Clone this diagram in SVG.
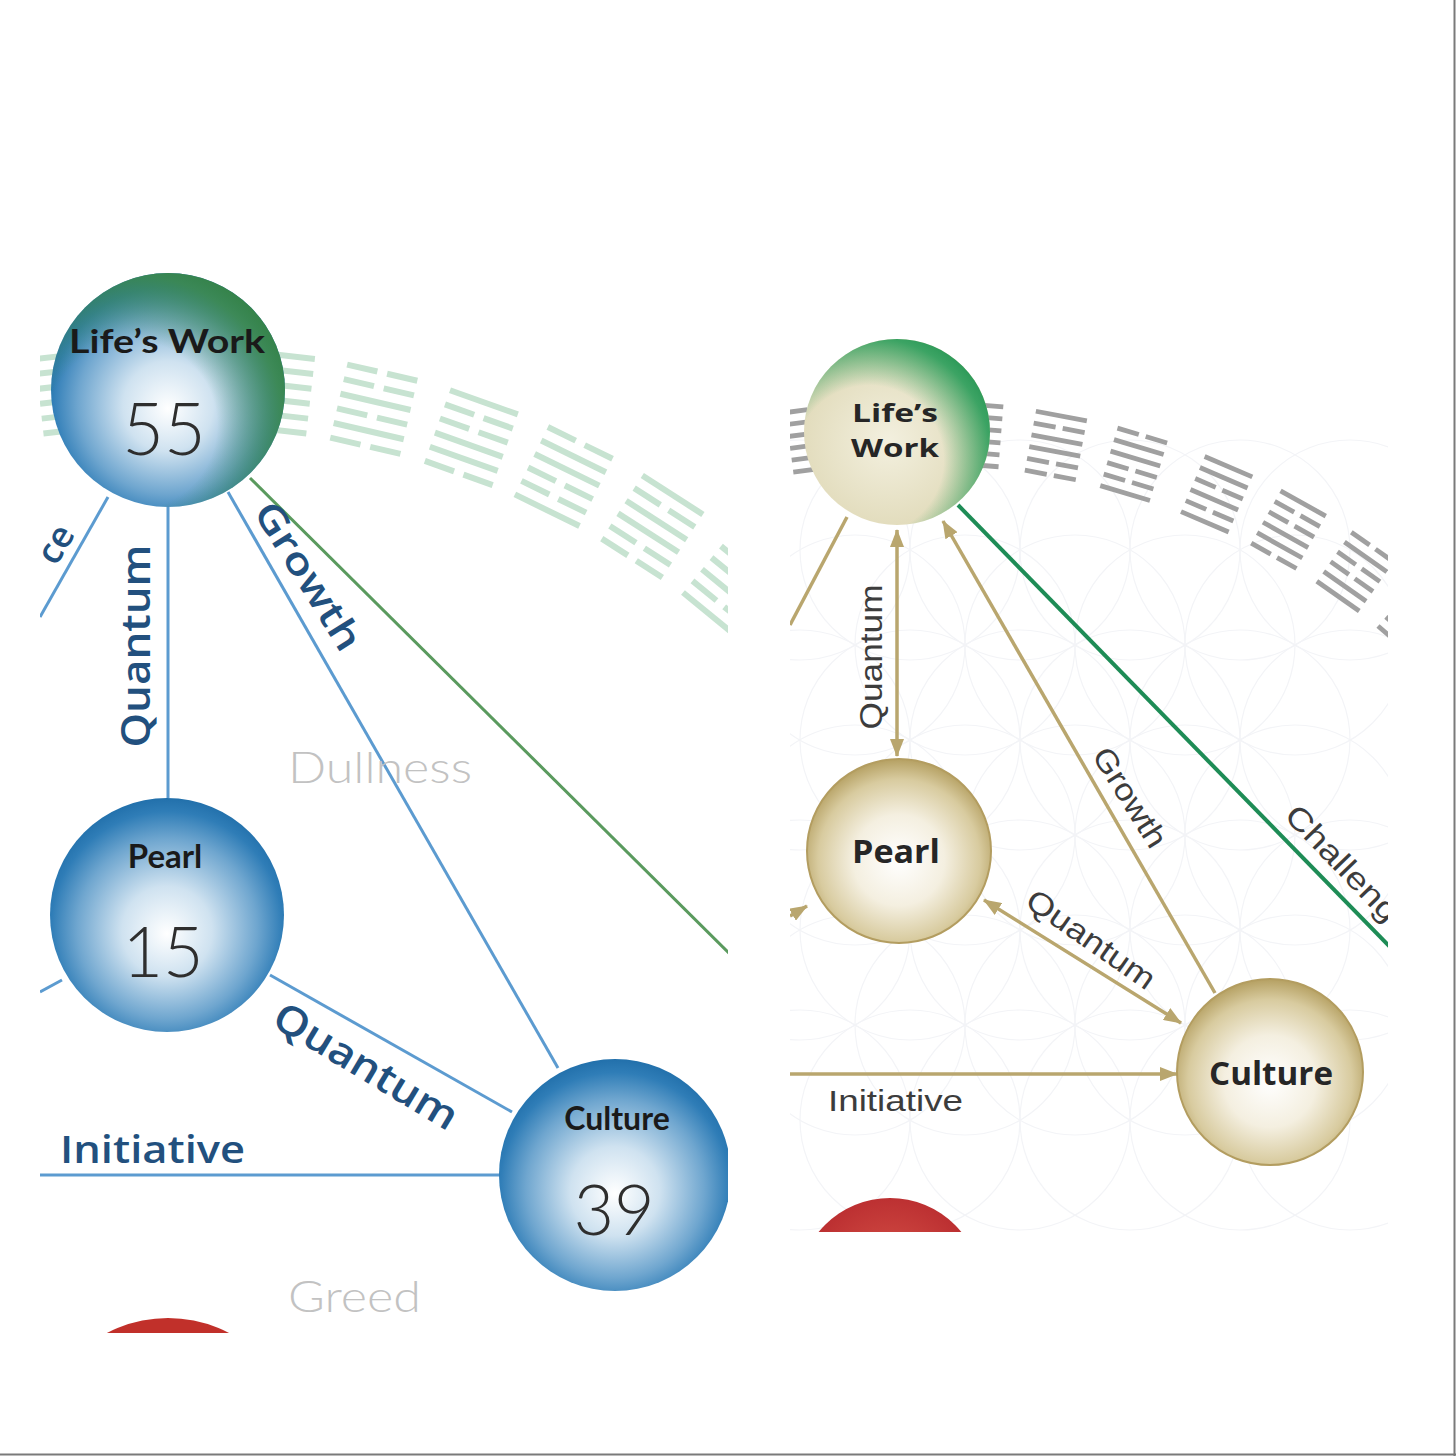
<svg xmlns="http://www.w3.org/2000/svg" xmlns:xlink="http://www.w3.org/1999/xlink" width="1456" height="1456" viewBox="0 0 1456 1456">
<style>
.lbl{font-family:"Open Sans","Lato","Liberation Sans",sans-serif;font-weight:600;fill:#22507e}
.node{font-family:"Lato","Open Sans","Liberation Sans",sans-serif;font-weight:700;fill:#1a1a1a;text-anchor:middle}
.num{font-family:"Lato","Open Sans","Liberation Sans",sans-serif;font-weight:300;fill:#2e2e2e;text-anchor:middle}
.shadow{font-family:"Lato","Open Sans","Liberation Sans",sans-serif;font-weight:300;fill:#c2c2c2}
.bl{stroke:#5c9bd0;stroke-width:3;fill:none}
.tn{stroke:#b9a66e;stroke-width:3.5;fill:none}
.rl{font-family:"Liberation Sans","Open Sans",sans-serif;fill:#3c3c3c}
.rn{font-family:"Open Sans","Liberation Sans",sans-serif;font-weight:700;fill:#262626;text-anchor:middle}
.fol{fill:none;stroke:#f3f4f7;stroke-width:1.2}
</style>
<defs>
<clipPath id="clipL"><rect x="40" y="265" width="688" height="1068"/></clipPath>
<clipPath id="clipR"><rect x="790" y="335" width="598" height="897"/></clipPath>
<radialGradient id="gBlue" cx="0.5" cy="0.55" r="0.55" fx="0.5" fy="0.58">
<stop offset="0" stop-color="#ffffff"/>
<stop offset="0.35" stop-color="#cfe2f0"/>
<stop offset="0.7" stop-color="#6fa6cf"/>
<stop offset="0.9" stop-color="#2f7db7"/>
<stop offset="1" stop-color="#2270ab"/>
</radialGradient>
<radialGradient id="gGreenL" cx="0.35" cy="0.65" r="0.8">
<stop offset="0" stop-color="#3d8a46" stop-opacity="0"/>
<stop offset="0.45" stop-color="#3d8a46" stop-opacity="0"/>
<stop offset="0.8" stop-color="#3d8a46" stop-opacity="0.85"/>
<stop offset="1" stop-color="#2f7d3a" stop-opacity="1"/>
</radialGradient>
<radialGradient id="gCream" cx="0.45" cy="0.55" r="0.6">
<stop offset="0" stop-color="#f3f0df"/>
<stop offset="1" stop-color="#ddd6b2"/>
</radialGradient>
<radialGradient id="gGreenR" cx="0.35" cy="0.65" r="0.8">
<stop offset="0" stop-color="#1f9a55" stop-opacity="0"/>
<stop offset="0.5" stop-color="#1f9a55" stop-opacity="0"/>
<stop offset="0.82" stop-color="#1f9a55" stop-opacity="0.85"/>
<stop offset="1" stop-color="#178a48" stop-opacity="1"/>
</radialGradient>
<radialGradient id="gTan" cx="0.5" cy="0.55" r="0.55">
<stop offset="0" stop-color="#ffffff"/>
<stop offset="0.45" stop-color="#f4efe0"/>
<stop offset="0.8" stop-color="#d8cb9f"/>
<stop offset="1" stop-color="#b5a062"/>
</radialGradient>
<radialGradient id="gRed" cx="0.5" cy="0.45" r="0.6">
<stop offset="0" stop-color="#d9564a"/>
<stop offset="1" stop-color="#b3242a"/>
</radialGradient>
<marker id="arr" viewBox="0 0 18 14" markerWidth="18" markerHeight="14" refX="17" refY="7" orient="auto-start-reverse" markerUnits="userSpaceOnUse">
<path d="M0,0 L18,7 L0,14 z" fill="#b9a66e"/>
</marker>
<rect id="s" x="-36" y="0" width="72" height="6"/>
<g id="b"><rect x="-36" y="0" width="31" height="6"/><rect x="5" y="0" width="31" height="6"/></g>
<g id="hA"><use href="#s" y="-40"/><use href="#b" y="-25"/><use href="#s" y="-10"/><use href="#s" y="5"/><use href="#b" y="20"/><use href="#b" y="35"/></g>
<g id="hB"><use href="#b" y="-40"/><use href="#s" y="-25"/><use href="#b" y="-10"/><use href="#b" y="5"/><use href="#s" y="20"/><use href="#s" y="35"/></g>
<g id="hC"><use href="#s" y="-40"/><use href="#s" y="-25"/><use href="#b" y="-10"/><use href="#s" y="5"/><use href="#b" y="20"/><use href="#s" y="35"/></g>
<g id="hD"><use href="#b" y="-40"/><use href="#b" y="-25"/><use href="#s" y="-10"/><use href="#b" y="5"/><use href="#s" y="20"/><use href="#b" y="35"/></g>
<g id="hE"><use href="#s" y="-40"/><use href="#b" y="-25"/><use href="#b" y="-10"/><use href="#s" y="5"/><use href="#s" y="20"/><use href="#b" y="35"/></g>
<g id="hF"><use href="#b" y="-40"/><use href="#s" y="-25"/><use href="#s" y="-10"/><use href="#b" y="5"/><use href="#b" y="20"/><use href="#s" y="35"/></g>
</defs>
<rect x="0" y="0" width="1456" height="1456" fill="#ffffff"/>
<line x1="1454.5" y1="0" x2="1454.5" y2="1456" stroke="#7a7a7a" stroke-width="2"/>
<line x1="0" y1="1454.5" x2="1456" y2="1454.5" stroke="#7a7a7a" stroke-width="2"/>

<!-- LEFT PANEL -->
<g id="left-panel" clip-path="url(#clipL)">
<g id="hexagrams-left" fill="#c7e3d1">
<use href="#hA" transform="translate(74.9,391.7) rotate(-6.5)"/>
<use href="#hB" transform="translate(175,386)"/>
<use href="#hC" transform="translate(274.9,391.7) rotate(6.5)"/>
<use href="#hD" transform="translate(373.9,408.7) rotate(13)"/>
<use href="#hE" transform="translate(471.5,437.2) rotate(19.6)"/>
<use href="#hF" transform="translate(563.9,476.1) rotate(26.1)"/>
<use href="#hA" transform="translate(652.6,526.1) rotate(32.7)"/>
<use href="#hC" transform="translate(734.9,585.9) rotate(39.3)"/>
</g>
<g id="connectors-left">
<line class="bl" x1="108" y1="497" x2="40" y2="617"/>
<line class="bl" x1="168" y1="507" x2="168" y2="798"/>
<line class="bl" x1="228" y1="492" x2="558" y2="1068"/>
<line x1="250" y1="478" x2="730" y2="954" stroke="#5a9a5e" stroke-width="3"/>
<line class="bl" x1="270" y1="975" x2="512" y2="1112"/>
<line class="bl" x1="62" y1="980" x2="40" y2="992"/>
<line class="bl" x1="40" y1="1175" x2="502" y2="1175" stroke-width="4"/>
<text class="lbl" font-size="36" text-anchor="end" transform="translate(76,534) rotate(-59)">ce</text>
<text class="lbl" font-size="40" text-anchor="middle" textLength="203" lengthAdjust="spacingAndGlyphs" transform="translate(150,646) rotate(-90)">Quantum</text>
<text class="lbl" font-size="38" text-anchor="middle" textLength="168" lengthAdjust="spacingAndGlyphs" transform="translate(297,583) rotate(58)">Growth</text>
<text class="lbl" font-size="40" text-anchor="middle" textLength="208" lengthAdjust="spacingAndGlyphs" transform="translate(359,1078) rotate(31)">Quantum</text>
<text class="lbl" font-size="38" x="60" y="1163" textLength="185" lengthAdjust="spacingAndGlyphs" fill="#2a5d8c">Initiative</text>
<text class="shadow" font-size="43" x="288" y="783" textLength="184" lengthAdjust="spacingAndGlyphs">Dullness</text>
<text class="shadow" font-size="43" x="288" y="1312" textLength="133" lengthAdjust="spacingAndGlyphs">Greed</text>
</g>
<g id="node-lifes-work-left">
<circle cx="168" cy="390" r="117" fill="url(#gBlue)"/>
<circle cx="168" cy="390" r="117" fill="url(#gGreenL)"/>
<text class="node" x="167" y="353" font-size="32" textLength="196" lengthAdjust="spacingAndGlyphs">Life’s Work</text>
<text class="num" x="164" y="455" font-size="72">55</text>
</g>
<g id="node-pearl-left">
<circle cx="167" cy="915" r="117" fill="url(#gBlue)"/>
<text class="node" x="165" y="868" font-size="33">Pearl</text>
<text class="num" x="163" y="977" font-size="70">15</text>
</g>
<g id="node-culture-left">
<circle cx="615" cy="1175" r="116" fill="url(#gBlue)"/>
<text class="node" x="617" y="1130" font-size="32">Culture</text>
<text class="num" x="614" y="1235" font-size="70">39</text>
</g>
<g id="node-red-left">
<circle cx="168" cy="1450" r="132" fill="#c1302a"/>
</g>
</g>

<!-- RIGHT PANEL -->
<g id="right-panel" clip-path="url(#clipR)">
<g id="flower-bg">
<circle class="fol" cx="800" cy="550" r="110"/><circle class="fol" cx="910" cy="550" r="110"/><circle class="fol" cx="1020" cy="550" r="110"/><circle class="fol" cx="1130" cy="550" r="110"/><circle class="fol" cx="1240" cy="550" r="110"/><circle class="fol" cx="1350" cy="550" r="110"/>
<circle class="fol" cx="855" cy="645" r="110"/><circle class="fol" cx="965" cy="645" r="110"/><circle class="fol" cx="1075" cy="645" r="110"/><circle class="fol" cx="1185" cy="645" r="110"/><circle class="fol" cx="1295" cy="645" r="110"/>
<circle class="fol" cx="800" cy="740" r="110"/><circle class="fol" cx="910" cy="740" r="110"/><circle class="fol" cx="1020" cy="740" r="110"/><circle class="fol" cx="1130" cy="740" r="110"/><circle class="fol" cx="1240" cy="740" r="110"/><circle class="fol" cx="1350" cy="740" r="110"/>
<circle class="fol" cx="855" cy="835" r="110"/><circle class="fol" cx="965" cy="835" r="110"/><circle class="fol" cx="1075" cy="835" r="110"/><circle class="fol" cx="1185" cy="835" r="110"/><circle class="fol" cx="1295" cy="835" r="110"/>
<circle class="fol" cx="800" cy="930" r="110"/><circle class="fol" cx="910" cy="930" r="110"/><circle class="fol" cx="1020" cy="930" r="110"/><circle class="fol" cx="1130" cy="930" r="110"/><circle class="fol" cx="1240" cy="930" r="110"/><circle class="fol" cx="1350" cy="930" r="110"/>
<circle class="fol" cx="855" cy="1025" r="110"/><circle class="fol" cx="965" cy="1025" r="110"/><circle class="fol" cx="1075" cy="1025" r="110"/><circle class="fol" cx="1185" cy="1025" r="110"/><circle class="fol" cx="1295" cy="1025" r="110"/>
<circle class="fol" cx="800" cy="1120" r="110"/><circle class="fol" cx="910" cy="1120" r="110"/><circle class="fol" cx="1020" cy="1120" r="110"/><circle class="fol" cx="1130" cy="1120" r="110"/><circle class="fol" cx="1240" cy="1120" r="110"/><circle class="fol" cx="1350" cy="1120" r="110"/>
</g>
<g id="hexagrams-right" fill="#a0a0a0">
<use href="#hB" transform="translate(815,438.6) rotate(-7.5) scale(0.72,0.8)"/>
<use href="#hD" transform="translate(975.1,434.4) rotate(4.5) scale(0.72,0.8)"/>
<use href="#hA" transform="translate(1055.9,445.1) rotate(10.6) scale(0.72,0.8)"/>
<use href="#hF" transform="translate(1133.8,463.9) rotate(16.6) scale(0.72,0.8)"/>
<use href="#hC" transform="translate(1216.8,493.9) rotate(23.2) scale(0.72,0.8)"/>
<use href="#hE" transform="translate(1288.7,529.3) rotate(29.2) scale(0.72,0.8)"/>
<use href="#hB" transform="translate(1355.5,571.3) rotate(35.1) scale(0.72,0.8)"/>
<use href="#hD" transform="translate(1417.5,620) rotate(41) scale(0.72,0.8)"/>
</g>
<g id="connectors-right">
<line class="tn" x1="847" y1="517" x2="790" y2="625"/>
<line class="tn" x1="897" y1="530" x2="897" y2="756" marker-start="url(#arr)" marker-end="url(#arr)"/>
<line class="tn" x1="1215" y1="993" x2="943" y2="521" marker-end="url(#arr)"/>
<line x1="958" y1="505" x2="1392" y2="949" stroke="#1e8c56" stroke-width="4"/>
<line class="tn" x1="984" y1="900" x2="1181" y2="1023" marker-start="url(#arr)" marker-end="url(#arr)"/>
<line class="tn" x1="790" y1="916" x2="807" y2="906" marker-end="url(#arr)"/>
<line class="tn" x1="790" y1="1074" x2="1177" y2="1074" stroke-width="4.5" marker-end="url(#arr)"/>
<text class="rl" font-size="31" text-anchor="middle" textLength="145" lengthAdjust="spacingAndGlyphs" transform="translate(882,657) rotate(-90)">Quantum</text>
<text class="rl" font-size="31" text-anchor="middle" textLength="112" lengthAdjust="spacingAndGlyphs" transform="translate(1121,803) rotate(58)">Growth</text>
<text class="rl" font-size="31" textLength="170" lengthAdjust="spacingAndGlyphs" transform="translate(1283,817) rotate(46)">Challenge</text>
<text class="rl" font-size="31" text-anchor="middle" textLength="150" lengthAdjust="spacingAndGlyphs" transform="translate(1085,948) rotate(35)">Quantum</text>
<text class="rl" font-size="29" x="828" y="1111" textLength="135" lengthAdjust="spacingAndGlyphs" fill="#555555">Initiative</text>
</g>
<g id="node-lifes-work-right">
<circle cx="897" cy="432" r="93" fill="url(#gCream)"/>
<circle cx="897" cy="432" r="93" fill="url(#gGreenR)"/>
<text class="rn" x="895" y="422" font-size="25" textLength="86" lengthAdjust="spacingAndGlyphs">Life’s</text>
<text class="rn" x="895" y="457" font-size="25" textLength="88" lengthAdjust="spacingAndGlyphs">Work</text>
</g>
<g id="node-pearl-right">
<circle cx="899" cy="851" r="92" fill="url(#gTan)" stroke="#b39d60" stroke-width="2"/>
<text class="rn" x="896" y="863" font-size="32" textLength="88" lengthAdjust="spacingAndGlyphs">Pearl</text>
</g>
<g id="node-culture-right">
<circle cx="1270" cy="1072" r="93" fill="url(#gTan)" stroke="#b39d60" stroke-width="2"/>
<text class="rn" x="1271" y="1085" font-size="32" textLength="124" lengthAdjust="spacingAndGlyphs">Culture</text>
</g>
<g id="node-red-right">
<circle cx="890" cy="1290" r="92" fill="url(#gRed)"/>
</g>
</g>
</svg>
